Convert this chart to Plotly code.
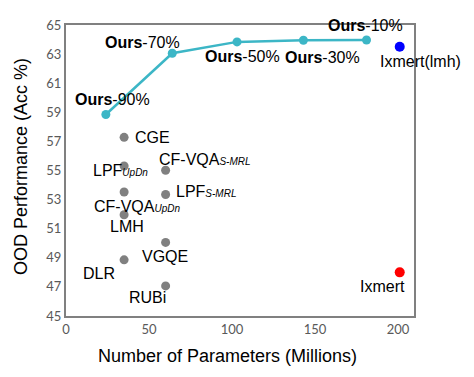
import plotly.graph_objects as go

# Данные: наши модели (линия)
ours_names = ['90%', '70%', '50%', '30%', '10%']
ours_params = [24, 64, 103, 143, 181]
ours_acc = [58.85, 63.06, 63.84, 63.95, 63.97]

# Базовые методы (серые точки)
base_names = ['CGE', 'LPF_UpDn', 'CF-VQA_S-MRL', 'LPF_S-MRL', 'CF-VQA_UpDn',
              'LMH', 'VGQE', 'DLR', 'RUBi']
base_params = [35, 35, 60, 60, 35, 35, 60, 35, 60]
base_acc = [57.28, 55.31, 55.02, 53.35, 53.52, 51.96, 50.06, 48.86, 47.07]

# LXMERT
lx_names = ['Ixmert(lmh)', 'Ixmert']
lx_params = [201, 201]
lx_acc = [63.5, 48.0]

x_ticks = [0, 50, 100, 150, 200]
y_ticks = [45, 47, 49, 51, 53, 55, 57, 59, 61, 63, 65]

FONT = 'Arial, Liberation Sans, sans-serif'
TICKFONT = 'Lato, Open Sans, sans-serif'
TEAL = '#3cb6c6'
GRAY = '#808080'

fig = go.Figure()

fig.add_trace(go.Scatter(x=ours_params, y=ours_acc, mode='lines+markers',
                         line=dict(color=TEAL, width=2.5),
                         marker=dict(color=TEAL, size=9), showlegend=False))
fig.add_trace(go.Scatter(x=base_params, y=base_acc, mode='markers',
                         marker=dict(color=GRAY, size=9), showlegend=False))
fig.add_trace(go.Scatter(x=lx_params, y=lx_acc, mode='markers',
                         marker=dict(color=['#0000ff', '#ff0000'], size=10),
                         showlegend=False))


def fmt(name):
    if '_' in name:
        main, sub = name.split('_')
        return main + "<span style='font-size:10px'><i>" + sub + "</i></span>"
    return name


# смещения подписей (пиксели): dx, dy, xanchor
ours_off = [(7, 15, 'center'), (-30, 11, 'center'), (5, -15, 'center'),
            (19, -17, 'center'), (-1, 14, 'center')]
base_off = [(9, 0, 'left'), (-4, -5, 'center'), (-9, 11, 'left'),
            (8, 3, 'left'), (13, -14, 'center'), (3, -12, 'center'),
            (-1, -14, 'center'), (-25, -14, 'center'), (-18, -12, 'center')]
lx_off = [(21, -15, 'center'), (-17, -14, 'center')]

for n, x, y, (dx, dy, xa) in zip(ours_names, ours_params, ours_acc, ours_off):
    fig.add_annotation(x=x, y=y, text='<b>Ours</b>-' + n, showarrow=False,
                       xshift=dx, yshift=dy, xanchor=xa, yanchor='middle',
                       font=dict(family=FONT, size=16, color='black'))
for n, x, y, (dx, dy, xa) in zip(base_names, base_params, base_acc, base_off):
    fig.add_annotation(x=x, y=y, text=fmt(n), showarrow=False,
                       xshift=dx, yshift=dy, xanchor=xa, yanchor='middle',
                       font=dict(family=FONT, size=16, color='black'))
for n, x, y, (dx, dy, xa) in zip(lx_names, lx_params, lx_acc, lx_off):
    fig.add_annotation(x=x, y=y, text=n, showarrow=False,
                       xshift=dx, yshift=dy, xanchor=xa, yanchor='middle',
                       font=dict(family=FONT, size=16, color='black'))

# подписи осей
fig.add_annotation(xref='paper', yref='paper', x=0.4635, y=-0.136,
                   xanchor='center', yanchor='middle',
                   text='Number of Parameters (Millions)', showarrow=False,
                   font=dict(family=FONT, size=18, color='black'))
fig.add_annotation(xref='paper', yref='paper', x=-0.129, y=0.512, textangle=-90,
                   xanchor='center', yanchor='middle',
                   text='OOD Performance (Acc %)', showarrow=False,
                   font=dict(family=FONT, size=18, color='black'))

# страница добавляет отступ 8px, поэтому размеры и поля уменьшены
fig.update_layout(
    width=466, height=369,
    margin=dict(l=58, r=60, t=9, b=61),
    paper_bgcolor='white', plot_bgcolor='white',
    xaxis=dict(range=[0, 209.6], tickvals=x_ticks, showgrid=False, zeroline=False,
               showline=True, mirror=True, linecolor=GRAY, linewidth=2,
               ticks='', tickfont=dict(family=TICKFONT, size=13, color='#595959')),
    yaxis=dict(range=[45, 65], tickvals=y_ticks, showgrid=False, zeroline=False,
               showline=True, mirror=True, linecolor=GRAY, linewidth=2,
               ticks='', tickfont=dict(family=TICKFONT, size=13, color='#595959')),
)

fig.write_html('out.html')
